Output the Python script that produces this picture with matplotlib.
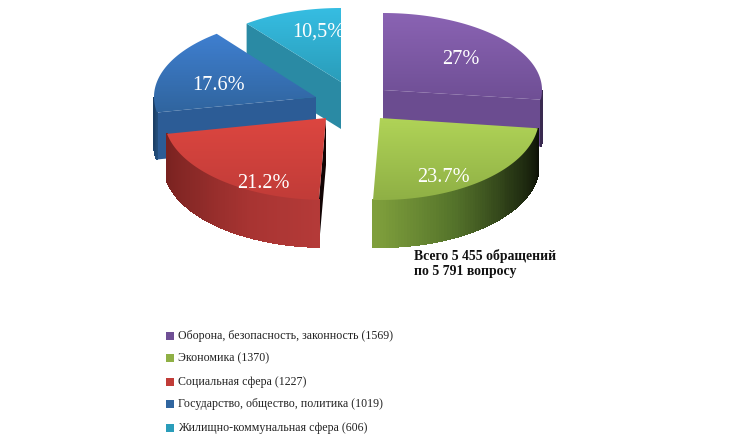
import numpy as np
import matplotlib
matplotlib.use('Agg')
import matplotlib.pyplot as plt
from matplotlib.patches import Polygon, Rectangle
from matplotlib.colors import LinearSegmentedColormap

# data
names = ['Оборона, безопасность, законность', 'Экономика', 'Социальная сфера',
         'Государство, общество, политика', 'Жилищно-коммунальная сфера']
counts = [1569, 1370, 1227, 1019, 606]
shares = [27, 23.7, 21.2, 17.6, 10.5]
share_labels = ['27%', '23.7%', '21.2%', '17.6%', '10,5%']
note_lines = ['Всего 5 455 обращений', 'по 5 791 вопросу']

# look of each slice, in pixels of the 735x441 picture
apex = [(383, 90), (380, 118), (326, 118), (316, 97), (341, 82)]
radius_x = [159, 159, 162, 162, 154]
radius_y = [77, 82, 82, 80, 74]
depth = 47
top_cols = [('#8a63b3', '#6f4f95'), ('#b0d357', '#8fb045'), ('#dc4640', '#c13c38'),
            ('#3f7fd0', '#30659f'), ('#36bde2', '#2a9dba')]
wall_cols = [['#3a2a50', '#3a2a50'], ['#0c1006', '#2a3a16', '#56752b', '#7f9f3c'],
             ['#b43a38', '#a83432', '#8c2a28', '#7a2220'], ['#24507f', '#1c3f66'], ['#24758c', '#24758c']]
face_cols = ['#6b4c90', None, '#120404', '#2c5c96', '#2a8aa4']
label_pos = [(461, 60), (443, 177), (263, 183), (219, 85), (318, 32)]
draw_order = [4, 3, 0, 2, 1]
legend_y = [336, 358, 382, 404, 428]

fig = plt.figure(figsize=(7.35, 4.41), dpi=100)
ax = fig.add_axes([0, 0, 1, 1])
ax.axis('off')

edges = np.concatenate([[0], np.cumsum(shares)]) / sum(shares) * 360


def arc(i, t):
    r = np.radians(t)
    return apex[i][0] + radius_x[i] * np.sin(r), apex[i][1] - radius_y[i] * np.cos(r)


for i in draw_order:
    t0, t1 = edges[i], edges[i + 1]
    z = draw_order.index(i) * 3 + 1

    # cut face that looks towards the viewer
    if face_cols[i]:
        t_cut = t1 if i == 0 else t0
        ex, ey = arc(i, t_cut)
        cx, cy = apex[i]
        ax.add_patch(Polygon([(cx, cy), (ex, ey), (ex, ey + depth), (cx, cy + depth)],
                             closed=True, fc=face_cols[i], ec='none', zorder=z))

    # outer wall, only the front half shows
    lo, hi = max(t0, 90), min(t1, 270)
    if hi > lo:
        cmap = LinearSegmentedColormap.from_list('w', wall_cols[i])
        ts = np.linspace(lo, hi, 80)
        for k in range(len(ts) - 1):
            xa, ya = arc(i, ts[k])
            xb, yb = arc(i, ts[k + 1])
            col = cmap(k / (len(ts) - 2))
            ax.add_patch(Polygon([(xa, ya), (xb, yb), (xb, yb + depth), (xa, ya + depth)], closed=True,
                                 fc=col, ec=col, lw=0.8, antialiased=False, zorder=z))

    # top face with a soft vertical gradient
    ts = np.linspace(t0, t1, 120)
    xs, ys = arc(i, ts)
    pts = np.column_stack([np.r_[apex[i][0], xs], np.r_[apex[i][1], ys]])
    clip = Polygon(pts, closed=True, transform=ax.transData, fc='none', ec='none')
    ax.add_patch(clip)
    cmap = LinearSegmentedColormap.from_list('t', top_cols[i])
    im = ax.imshow(np.linspace(0, 1, 64).reshape(-1, 1), cmap=cmap, aspect='auto',
                   extent=(pts[:, 0].min(), pts[:, 0].max(), pts[:, 1].max(), pts[:, 1].min()),
                   zorder=z + 1)
    im.set_clip_path(clip)
    lab = ax.text(label_pos[i][0], label_pos[i][1], share_labels[i], color='white', fontsize=14.6,
                  family='Liberation Serif', ha='center', va='center', zorder=30)
    lab.set_clip_path(clip)

ax.set_xlim(0, 735)
ax.set_ylim(441, 0)

ax.text(414, 256, note_lines[0], fontsize=9.9, fontweight='bold', family='Liberation Serif',
        va='center', color='#111111', zorder=31)
ax.text(414, 272, note_lines[1], fontsize=9.9, fontweight='bold', family='Liberation Serif',
        va='center', color='#111111', zorder=31)

for name, count, y, c in zip(names, counts, legend_y, top_cols):
    ax.add_patch(Rectangle((166, y - 4), 8, 8, fc=c[1], ec='none'))
    ax.text(178, y, f'{name} ({count})', fontsize=8.6, family='Liberation Serif',
            va='center', color='#222222')

fig.savefig('out.png', dpi=100, facecolor='white')
